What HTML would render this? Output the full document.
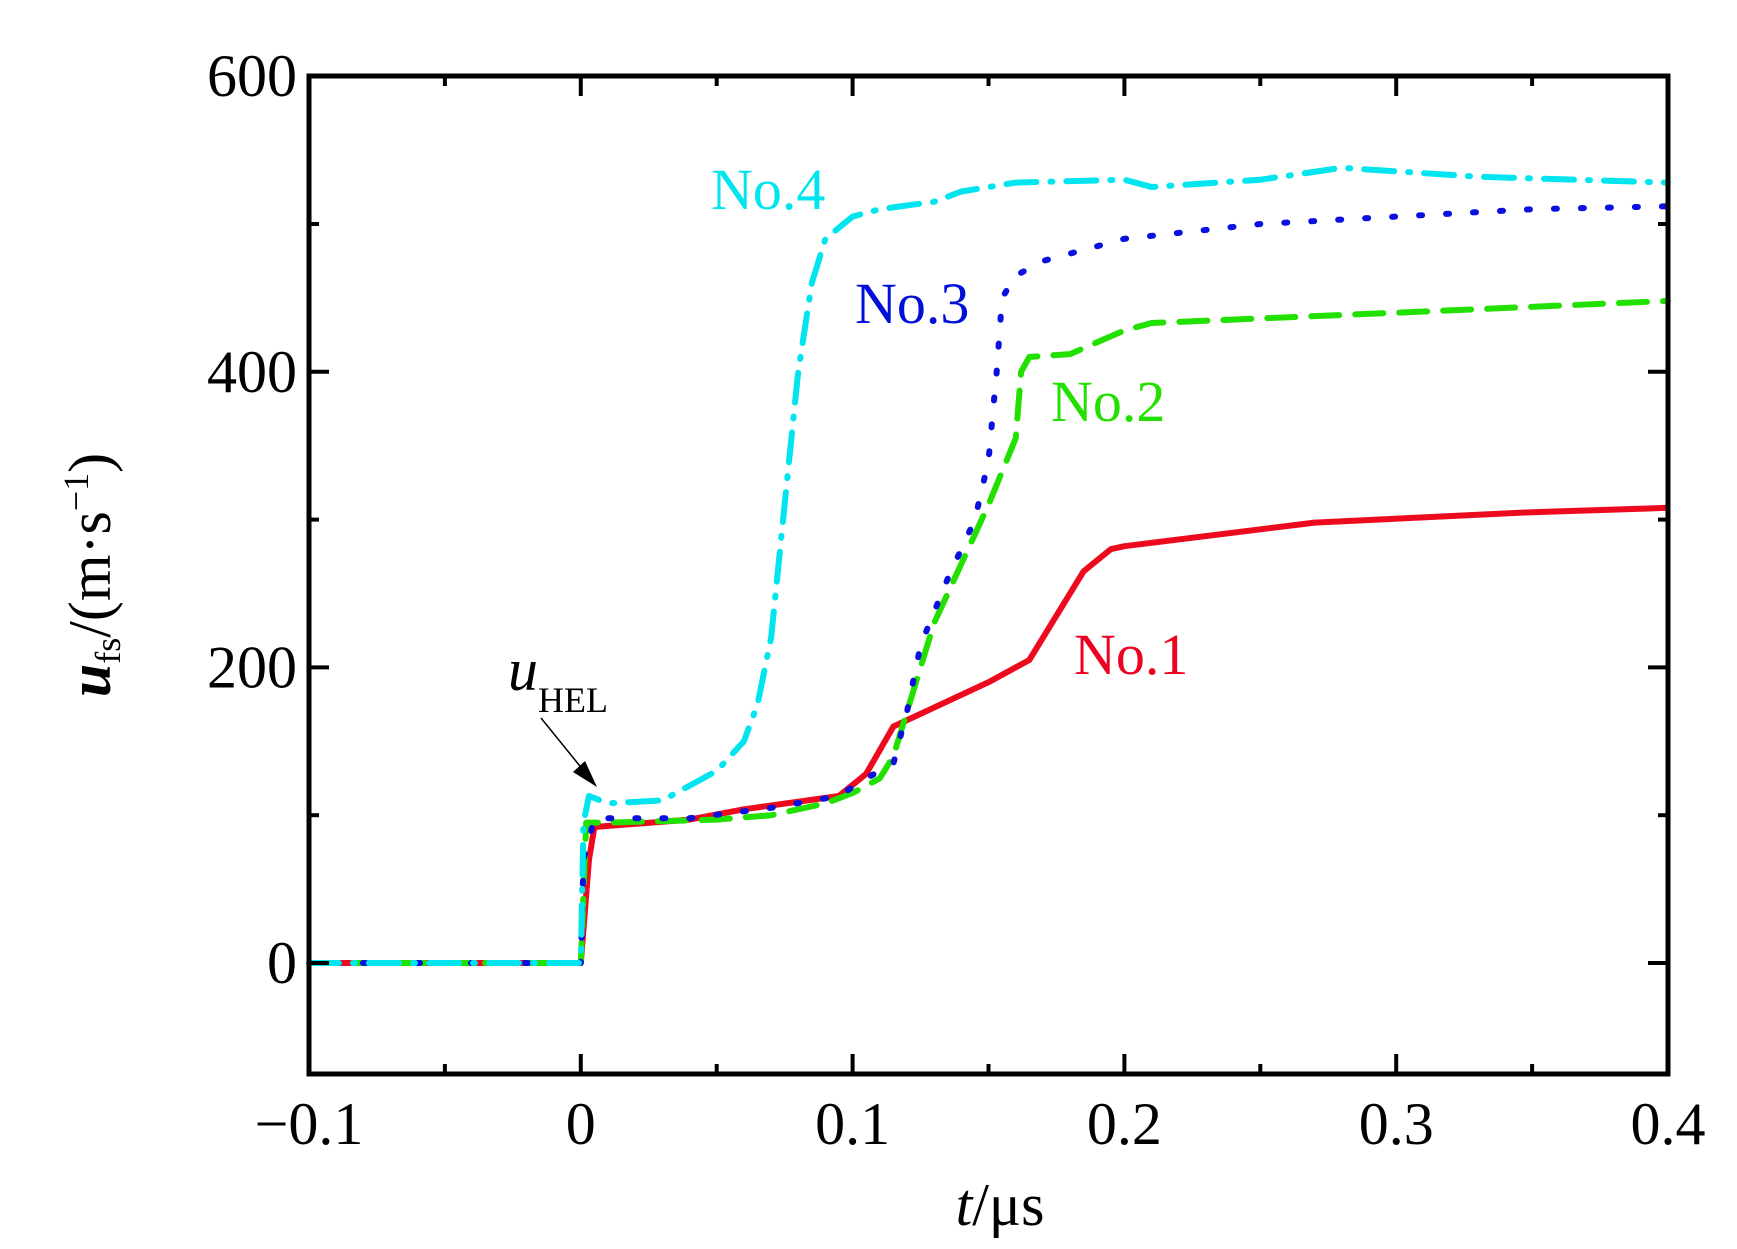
<!DOCTYPE html>
<html><head><meta charset="utf-8">
<style>
html,body{margin:0;padding:0;background:#fff;}
svg{display:block;font-family:"Liberation Serif",serif;}
</style></head>
<body>
<svg id="chart" width="1737" height="1249" viewBox="0 0 1737 1249" xmlns="http://www.w3.org/2000/svg">
<g id="series"></g>
<rect x="309" y="76" width="1359" height="998" fill="none" stroke="#000" stroke-width="5"/>
<g id="ticks"></g>
<text x="711" y="209" font-size="58" fill="#00e5ee">No.4</text>
<text x="855" y="323" font-size="58" fill="#0010d8">No.3</text>
<text x="1051" y="421" font-size="58" fill="#22e000">No.2</text>
<text x="1074" y="674" font-size="58" fill="#ee0020">No.1</text>
<text x="508" y="690" font-size="60" font-style="italic">u<tspan font-size="36" font-style="normal" dy="22">HEL</tspan></text>
<line x1="541" y1="718" x2="588" y2="776" stroke="#000" stroke-width="1.5"/>
<polygon points="597,787 573,772 585,761" fill="#000"/>
<text x="1000" y="1225" font-size="60" text-anchor="middle"><tspan font-style="italic">t</tspan>/μs</text>
<text transform="translate(110,575) rotate(-90)" font-size="60" text-anchor="middle"><tspan font-style="italic" font-weight="bold">u</tspan><tspan font-size="36" dy="10">fs</tspan><tspan dy="-10">/(m·s</tspan><tspan font-size="36" dy="-22">−1</tspan><tspan dy="22">)</tspan></text>
</svg>
<script>
const xTicks=[-0.1,0,0.1,0.2,0.3,0.4];
const xTickLabels=["−0.1","0","0.1","0.2","0.3","0.4"];
const xMinor=[-0.05,0.05,0.15,0.25,0.35];
const yTicks=[0,200,400,600];
const yTickLabels=["0","200","400","600"];
const yMinor=[100,300,500];
const t1=[-0.1,0,0.003,0.005,0.04,0.06,0.095,0.105,0.115,0.15,0.165,0.185,0.195,0.2,0.27,0.35,0.4];
const v1=[0,0,70,92,97,104,113,128,160,190,205,265,280,282,298,305,308];
const t2=[-0.1,0,0.002,0.01,0.05,0.07,0.09,0.1,0.11,0.115,0.12,0.13,0.14,0.15,0.16,0.162,0.165,0.18,0.2,0.21,0.3,0.4];
const v2=[0,0,95,95,97,100,108,115,125,140,170,230,270,310,355,400,410,412,428,433,440,448];
const t3=[-0.1,0,0.001,0.005,0.04,0.07,0.095,0.105,0.115,0.12,0.125,0.135,0.145,0.15,0.152,0.153,0.155,0.16,0.17,0.2,0.25,0.3,0.35,0.4];
const v3=[0,0,70,98,98,105,113,125,135,170,215,260,300,340,380,400,450,465,475,490,500,505,510,512];
const t4=[-0.1,0,0.001,0.003,0.01,0.03,0.05,0.06,0.065,0.07,0.075,0.08,0.085,0.09,0.1,0.11,0.13,0.14,0.16,0.2,0.21,0.25,0.28,0.33,0.4];
const v4=[0,0,95,113,108,110,130,150,175,220,310,400,460,490,505,510,515,522,528,530,525,530,538,532,528];
const X=t=>309+(t+0.1)*2718;
const Y=v=>963-v*1.478;
const NS="http://www.w3.org/2000/svg";
const sg=document.getElementById('series');
function addLine(ts,vs,color,dash,name){
  const p=document.createElementNS(NS,'path');
  
  
  p.setAttribute('d',ts.map((t,i)=>(i?'L':'M')+X(t).toFixed(1)+' '+Y(vs[i]).toFixed(1)).join(' '));
  p.setAttribute('fill','none');p.setAttribute('stroke',color);p.setAttribute('stroke-width','6');
  p.setAttribute('stroke-linejoin','round');
  if(dash){p.setAttribute('stroke-dasharray',dash);p.setAttribute('stroke-linecap','round');}
  sg.appendChild(p);
}
addLine(t1,v1,'#ee0a1e',null,'line-no1');
addLine(t2,v2,'#22e000','28 16','line-no2');
addLine(t3,v3,'#0a10e0','3 24','line-no3');
addLine(t4,v4,'#00e5ee','30 14 2 14','line-no4');
const tg=document.getElementById('ticks');
function ln(x1,y1,x2,y2,name){const l=document.createElementNS(NS,'line');
  
  
  l.setAttribute('x1',x1);l.setAttribute('y1',y1);l.setAttribute('x2',x2);l.setAttribute('y2',y2);
  l.setAttribute('stroke','#000');l.setAttribute('stroke-width','4');tg.appendChild(l);}
function tx(x,y,s,anchor,name){const e=document.createElementNS(NS,'text');
  
  
  e.setAttribute('x',x);e.setAttribute('y',y);e.setAttribute('font-size','60');e.setAttribute('text-anchor',anchor);
  e.textContent=s;tg.appendChild(e);}
xTicks.forEach((t,i)=>{ln(X(t),1074,X(t),1054,'x-tick');ln(X(t),76,X(t),96,'x-tick-top');tx(X(t),1144,xTickLabels[i],'middle','x-tick-label');});
xMinor.forEach(t=>{ln(X(t),1074,X(t),1064,'x-minor-tick');ln(X(t),76,X(t),86,'x-minor-tick-top');});
yTicks.forEach((v,i)=>{ln(309,Y(v),329,Y(v),'y-tick');ln(1668,Y(v),1648,Y(v),'y-tick-right');tx(297,Y(v)+20,yTickLabels[i],'end','y-tick-label');});
yMinor.forEach(v=>{ln(309,Y(v),319,Y(v),'y-minor-tick');ln(1668,Y(v),1658,Y(v),'y-minor-tick-right');});
</script>
</body></html>
